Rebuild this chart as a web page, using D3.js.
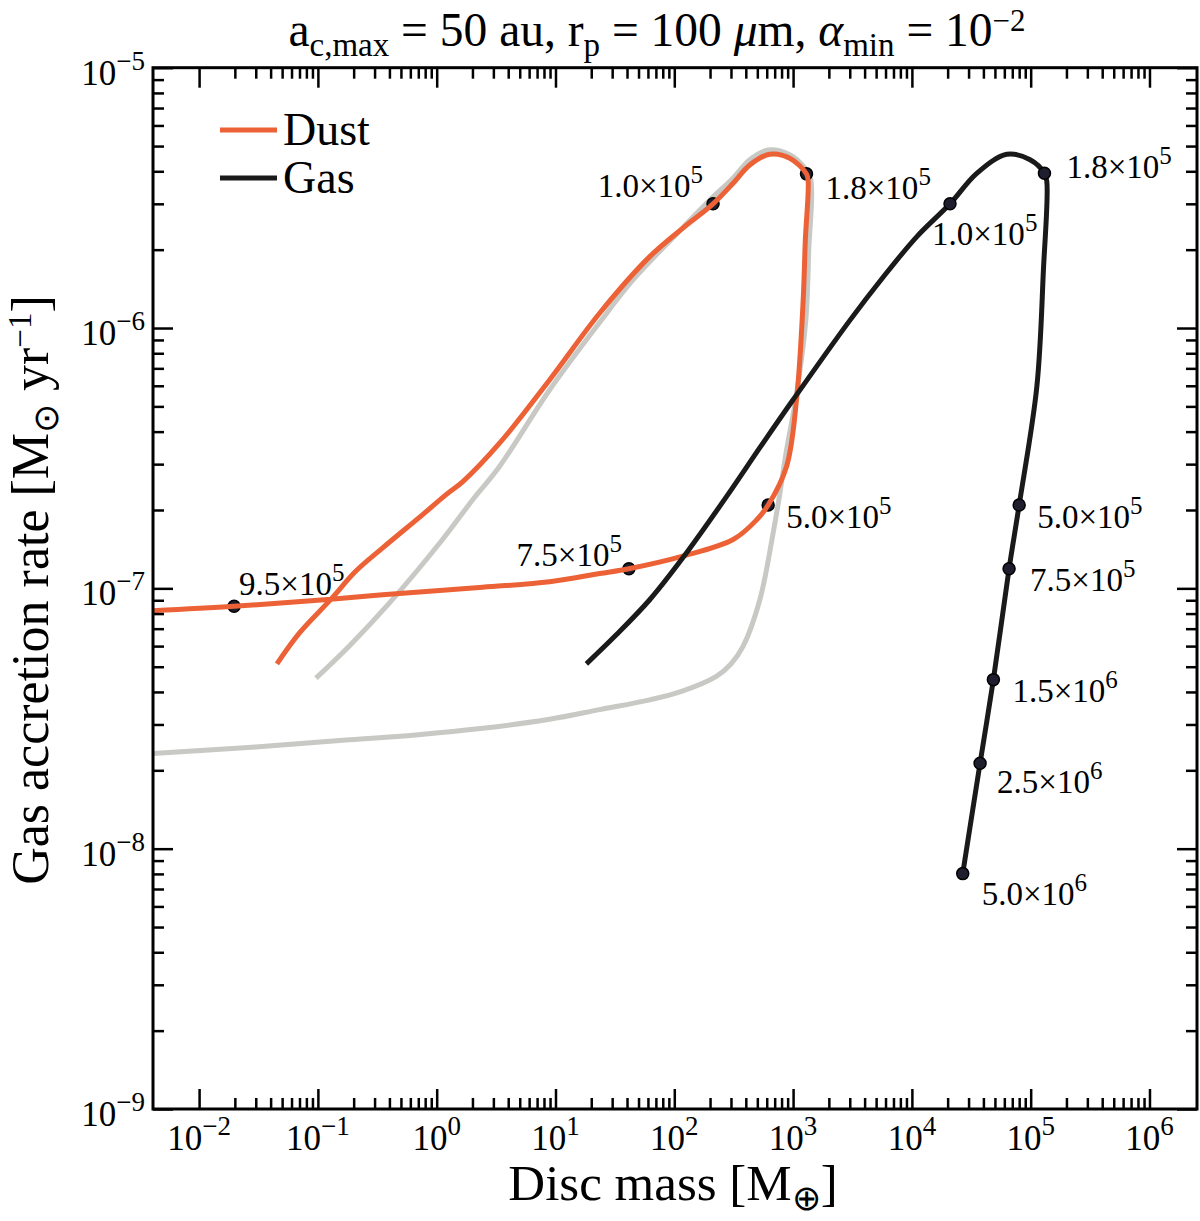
<!DOCTYPE html>
<html>
<head>
<meta charset="utf-8">
<script src="https://cdn.jsdelivr.net/npm/d3@7"></script>
<style>
body { margin: 0; background: #fff; }
svg { display: block; font-family: 'Liberation Serif', 'Times New Roman', serif; }
text { white-space: pre; }
</style>
</head>
<body>
<svg id="vis"></svg>
<script>
const DUST_COLOUR = 'rgb(236, 98, 54)';
const GAS_COLOUR = 'rgb(26, 26, 26)';
const REF_COLOUR = 'rgb(200, 200, 196)';
const DOT_COLOUR = 'rgb(30, 30, 46)';

const dustMass = [0.0452, 0.0697, 0.129, 0.207, 0.351, 0.762, 1.20, 1.66, 3.38, 8.91,
    23.5, 62.1, 118, 212, 313, 432, 637, 938, 1297, 1340,
    1268, 1216, 1069, 881, 617, 492, 313, 118, 41.5, 23.5,
    8.91, 2.44, 0.351, 0.129, 0.0197, 0.00402];
const dustRate = [5.13e-8, 6.73e-8, 9.09e-8, 1.16e-7, 1.43e-7, 1.92e-7, 2.29e-7, 2.57e-7, 3.61e-7, 6.32e-7,
    1.14e-6, 1.88e-6, 2.42e-6, 3.00e-6, 3.60e-6, 4.23e-6, 4.65e-6, 4.49e-6, 3.91e-6, 3.64e-6,
    2.18e-6, 1.28e-6, 5.30e-7, 2.94e-7, 2.09e-7, 1.83e-7, 1.54e-7, 1.33e-7, 1.19e-7, 1.14e-7,
    1.06e-7, 1.01e-7, 9.44e-8, 9.09e-8, 8.53e-8, 8.20e-8];

// gas-based run (black)
const gasMass = [18.2, 32.5, 62.1, 118, 275, 525, 1000, 3006, 5741, 10970,
    20940, 35160, 62950, 98900, 130600, 136800, 128000, 112700, 79980, 65780,
    48530, 37500, 26790];
const gasRate = [5.13e-8, 6.63e-8, 9.04e-8, 1.31e-7, 2.25e-7, 3.47e-7, 5.30e-7, 1.07e-6, 1.57e-6, 2.24e-6,
    3.00e-6, 3.93e-6, 4.65e-6, 4.43e-6, 3.93e-6, 3.64e-6, 1.67e-6, 5.96e-7, 2.09e-7, 1.19e-7,
    4.46e-8, 2.13e-8, 8.02e-9];

// reference run (grey)
const refMass = [0.0963, 0.184, 0.399, 1.12, 2.01, 3.38, 8.91, 23.5, 44.9, 118,
    199, 313, 432, 617, 938, 1253, 1409, 1355, 1279, 1050,
    881, 759, 679, 525, 379, 300, 226, 115, 62.1, 23.5,
    8.91, 2.44, 0.700, 0.184, 0.0300, 0.00402];
const refRate = [4.52e-8, 6.01e-8, 8.77e-8, 1.54e-7, 2.19e-7, 2.94e-7, 5.78e-7, 1.05e-6, 1.53e-6, 2.43e-6,
    3.10e-6, 3.77e-6, 4.43e-6, 4.83e-6, 4.63e-6, 4.12e-6, 3.71e-6, 2.00e-6, 1.07e-6, 5.30e-7,
    3.40e-7, 2.19e-7, 1.63e-7, 9.04e-8, 5.98e-8, 5.12e-8, 4.59e-8, 4.02e-8, 3.73e-8, 3.42e-8,
    3.14e-8, 2.90e-8, 2.74e-8, 2.62e-8, 2.46e-8, 2.32e-8];

// time markers (yr)
const dustMarkMass = [212, 1297, 617, 41.5, 0.0197];
const dustMarkRate = [3.00e-6, 3.91e-6, 2.09e-7, 1.19e-7, 8.53e-8];
const dustMarkMant = ['1.0', '1.8', '5.0', '7.5', '9.5'];
const dustMarkExp = [5, 5, 5, 5, 5];

const gasMarkMass = [20940, 130600, 79980, 65780, 48530, 37500, 26790];
const gasMarkRate = [3.00e-6, 3.93e-6, 2.09e-7, 1.19e-7, 4.46e-8, 2.13e-8, 8.02e-9];
const gasMarkMant = ['1.0', '1.8', '5.0', '7.5', '1.5', '2.5', '5.0'];
const gasMarkExp = [5, 5, 5, 5, 6, 6, 6];

const xTickExps = [-2, -1, 0, 1, 2, 3, 4, 5, 6];
const yTickExps = [-9, -8, -7, -6, -5];

const legendNames = ['Dust', 'Gas'];

// label placement next to each marker: [anchor, dx, dy]
var dustLabelPos = [['end', -10, -7], ['start', 19, 25], ['start', 18, 23], ['end', -7, -3], ['start', 5, -11]];
var gasLabelPos = [['start', -18, 41], ['start', 22, 5], ['start', 18, 23], ['start', 21, 22],
    ['start', 19, 22], ['start', 17, 30], ['start', 19, 31]];

var plot = {left: 153, right: 1197, top: 67.7, bottom: 1109};

var x = d3.scaleLog()
    .domain([Math.pow(10, -2.388), Math.pow(10, 6.40)])
    .range([plot.left, plot.right]);
var y = d3.scaleLog()
    .domain([1e-9, 1e-5])
    .range([plot.bottom, plot.top]);

function fmtExp(e) {
    return e < 0 ? '\u2212' + (-e) : '' + e;
}

function minorValues(exps) {
    var vals = [];
    for (var i = 0; i < exps.length - 1; i++) {
        for (var m = 2; m <= 9; m++) {
            vals.push(m * Math.pow(10, exps[i]));
        }
    }
    return vals;
}

function drawAxis(svg, axis, tx, ty) {
    svg.append('g')
        .attr('transform', 'translate(' + tx + ',' + ty + ')')
        .call(axis)
        .call(function(g) {
            g.select('.domain').remove();
            g.selectAll('line').attr('stroke', 'black').attr('stroke-width', 2.5);
        });
}

function drawTicks(svg) {
    var xMajor = xTickExps.map(function(e) { return Math.pow(10, e); });
    var yMajor = yTickExps.map(function(e) { return Math.pow(10, e); });
    var xMinor = minorValues(xTickExps);
    var yMinor = minorValues(yTickExps);
    var sizes = [[xMajor, yMajor, 20], [xMinor, yMinor, 11]];
    sizes.forEach(function(s) {
        drawAxis(svg, d3.axisBottom(x).tickValues(s[0]).tickSize(-s[2]).tickFormat(''), 0, plot.bottom);
        drawAxis(svg, d3.axisTop(x).tickValues(s[0]).tickSize(-s[2]).tickFormat(''), 0, plot.top);
        drawAxis(svg, d3.axisLeft(y).tickValues(s[1]).tickSize(-s[2]).tickFormat(''), plot.left, 0);
        drawAxis(svg, d3.axisRight(y).tickValues(s[1]).tickSize(-s[2]).tickFormat(''), plot.right, 0);
    });

    svg.append('rect')
        .attr('x', plot.left).attr('y', plot.top)
        .attr('width', plot.right - plot.left).attr('height', plot.bottom - plot.top)
        .attr('fill', 'none').attr('stroke', 'black').attr('stroke-width', 3);
}

function powerText(text, mant, exp, supSize, rise) {
    text.append('tspan').text(mant);
    text.append('tspan').attr('dy', -rise).attr('font-size', supSize).text(fmtExp(exp));
}

function drawTickLabels(svg) {
    xTickExps.forEach(function(e) {
        var t = svg.append('text')
            .attr('x', x(Math.pow(10, e)))
            .attr('y', 1150)
            .attr('text-anchor', 'middle')
            .attr('font-size', 35);
        powerText(t, '10', e, 27, 15);
    });
    yTickExps.forEach(function(e) {
        var t = svg.append('text')
            .attr('x', 145)
            .attr('y', y(Math.pow(10, e)) + 17)
            .attr('text-anchor', 'end')
            .attr('font-size', 35);
        powerText(t, '10', e, 27, 15);
    });
}

function drawTitles(svg) {
    var t = svg.append('text')
        .attr('x', 657).attr('y', 46)
        .attr('text-anchor', 'middle')
        .attr('font-size', 47.5);
    t.append('tspan').text('a');
    t.append('tspan').attr('dy', 10).attr('font-size', 33).text('c,max');
    t.append('tspan').attr('dy', -10).text(' = 50 au, r');
    t.append('tspan').attr('dy', 10).attr('font-size', 33).text('p');
    t.append('tspan').attr('dy', -10).text(' = 100 ');
    t.append('tspan').attr('font-style', 'italic').text('\u03bc');
    t.append('tspan').text('m, ');
    t.append('tspan').attr('font-style', 'italic').text('\u03b1');
    t.append('tspan').attr('dy', 10).attr('font-size', 33).text('min');
    t.append('tspan').attr('dy', -10).text(' = 10');
    t.append('tspan').attr('dy', -15).attr('font-size', 31).text('\u22122');

    var xl = svg.append('text')
        .attr('x', 673).attr('y', 1200)
        .attr('text-anchor', 'middle')
        .attr('font-size', 51);
    xl.append('tspan').text('Disc mass [M');
    xl.append('tspan').attr('dy', 10).attr('font-size', 35).text('\u2295');
    xl.append('tspan').attr('dy', -10).text(']');

    var yl = svg.append('text')
        .attr('transform', 'translate(48,590) rotate(-90)')
        .attr('text-anchor', 'middle')
        .attr('font-size', 52);
    yl.append('tspan').text('Gas accretion rate [M');
    yl.append('tspan').attr('dy', 10).attr('font-size', 35).text('\u2299');
    yl.append('tspan').attr('dy', -10).text(' yr');
    yl.append('tspan').attr('dy', -17).attr('font-size', 33).text('\u22121');
    yl.append('tspan').attr('dy', 17).text(']');
}

function drawCurve(g, mass, rate, colour) {
    var line = d3.line()
        .x(function(d) { return x(d[0]); })
        .y(function(d) { return y(d[1]); })
        .curve(d3.curveCatmullRom.alpha(0.5));
    g.append('path')
        .attr('d', line(d3.zip(mass, rate)))
        .attr('fill', 'none')
        .attr('stroke', colour)
        .attr('stroke-width', 5)
        .attr('stroke-linejoin', 'round');
}

function drawMarks(g, mass, rate) {
    for (var i = 0; i < mass.length; i++) {
        g.append('circle')
            .attr('cx', x(mass[i])).attr('cy', y(rate[i]))
            .attr('r', 6)
            .attr('fill', DOT_COLOUR)
            .attr('stroke', 'black').attr('stroke-width', 1.5);
    }
}

function drawMarkLabels(svg, mass, rate, mant, exps, pos) {
    for (var i = 0; i < mass.length; i++) {
        var t = svg.append('text')
            .attr('x', x(mass[i]) + pos[i][1])
            .attr('y', y(rate[i]) + pos[i][2])
            .attr('text-anchor', pos[i][0])
            .attr('font-size', 33);
        powerText(t, mant[i] + '\u00d710', exps[i], 25, 14);
    }
}

function drawLegend(svg) {
    var colours = [DUST_COLOUR, GAS_COLOUR];
    for (var i = 0; i < legendNames.length; i++) {
        var ly = 130 + i * 48;
        svg.append('line')
            .attr('x1', 220).attr('x2', 277).attr('y1', ly).attr('y2', ly)
            .attr('stroke', colours[i]).attr('stroke-width', 5);
        svg.append('text')
            .attr('x', 283).attr('y', ly + 15)
            .attr('font-size', 46)
            .text(legendNames[i]);
    }
}

function loadVisualisation(width, height) {
    var svg = d3.select('#vis').attr('width', width).attr('height', height);
    svg.append('rect').attr('width', width).attr('height', height).attr('fill', 'white');

    svg.append('defs').append('clipPath').attr('id', 'plotclip')
        .append('rect')
        .attr('x', plot.left).attr('y', plot.top)
        .attr('width', plot.right - plot.left).attr('height', plot.bottom - plot.top);

    var g = svg.append('g').attr('clip-path', 'url(#plotclip)');
    drawCurve(g, refMass, refRate, REF_COLOUR);
    drawMarks(g, dustMarkMass, dustMarkRate);
    drawCurve(g, dustMass, dustRate, DUST_COLOUR);
    drawCurve(g, gasMass, gasRate, GAS_COLOUR);
    drawMarks(g, gasMarkMass, gasMarkRate);

    drawMarkLabels(svg, dustMarkMass, dustMarkRate, dustMarkMant, dustMarkExp, dustLabelPos);
    drawMarkLabels(svg, gasMarkMass, gasMarkRate, gasMarkMant, gasMarkExp, gasLabelPos);

    drawTicks(svg);
    drawTickLabels(svg);
    drawTitles(svg);
    drawLegend(svg);
}

loadVisualisation(1200, 1221);
</script>
</body>
</html>
